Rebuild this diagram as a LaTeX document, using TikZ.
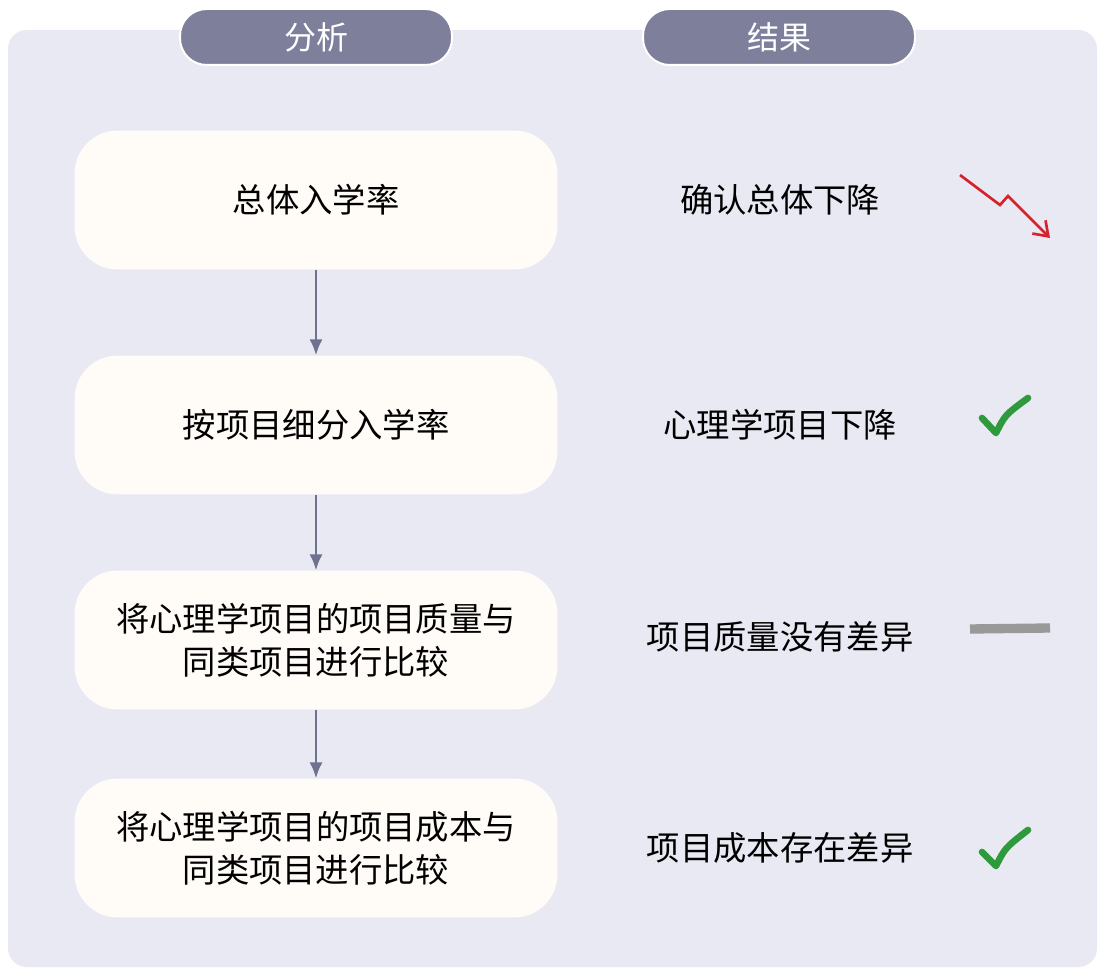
\documentclass[tikz,border=0pt]{standalone}
\usepackage{fontspec}
\setmainfont{Noto Sans CJK SC}
\usetikzlibrary{arrows.meta}
\definecolor{panelbg}{HTML}{E9E9F4}
\definecolor{pillfill}{HTML}{7E809B}
\definecolor{boxfill}{HTML}{FFFCF8}
\definecolor{arrowgray}{HTML}{6F7190}
\definecolor{downred}{HTML}{D8222B}
\definecolor{okgreen}{HTML}{2E9A3C}
\begin{document}
\begin{tikzpicture}[x=0.75pt, y=-0.75pt,
		stage/.style={rounded corners=32pt, fill=boxfill, minimum width=362pt, minimum height=104pt, align=center, font=\fontsize{25}{32}\selectfont},
		pill/.style={rounded corners=20pt, fill=pillfill, draw=white, line width=1.5pt, minimum width=204pt, minimum height=42pt, text=white, font=\fontsize{24}{28}\selectfont},
		result/.style={font=\fontsize{25}{30}\selectfont},
		flow/.style={-{Latex[length=12pt,width=10pt]}, draw=arrowgray, line width=2.2pt}]
			\useasboundingbox (0,0) rectangle (1104,973);
			\fill[panelbg, rounded corners=14pt] (8,30) rectangle (1097,967);
			\node[pill] (head1) at (316,37) {分析};
			\node[pill] (head2) at (779,37) {结果};
			\node[stage] (stage1) at (316,200) {总体入学率};
			\node[stage] (stage2) at (316,425) {按项目细分入学率};
			\node[stage] (stage3) at (316,640) {将心理学项目的项目质量与\\同类项目进行比较};
			\node[stage] (stage4) at (316,848) {将心理学项目的项目成本与\\同类项目进行比较};
			\node[result] (res1) at (780,200) {确认总体下降};
			\node[result] (res2) at (780,425) {心理学项目下降};
			\node[result] (res3) at (780,637) {项目质量没有差异};
			\node[result] (res4) at (780,848) {项目成本存在差异};
			\foreach \i [count = \xi] in {2, ..., 4}
				{
					\draw[flow] (stage\xi) -- (stage\i);
				}
			% icons
			\draw[downred, line width=2pt, -{Straight Barb[length=10pt,width=14pt]}] (960,175) -- (1000,205) -- (1008,196) -- (1050,238);
			\draw[okgreen, line width=5pt, line cap=round, line join=round] (982,418) -- (996,433) .. controls (1005,415) .. (1028,398);
			\draw[gray!80, line width=7pt] (970,629) -- (1050,628);
			\draw[okgreen, line width=5pt, line cap=round, line join=round] (982,852) -- (996,866) .. controls (1005,848) .. (1028,830);
		\end{tikzpicture}
\end{document}
